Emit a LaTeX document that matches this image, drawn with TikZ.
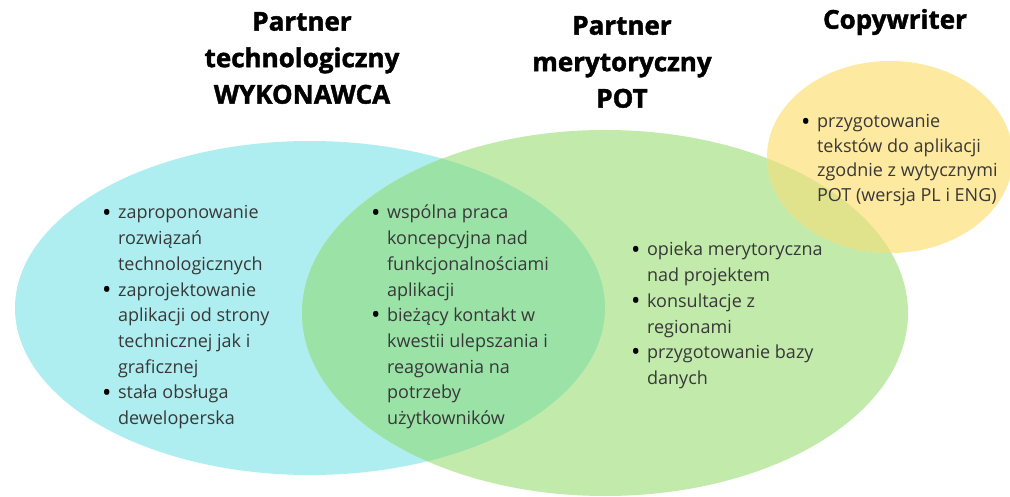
\documentclass[tikz,border=0pt]{standalone}
\usepackage{fontspec}
\setmainfont{Open Sans}
\newfontfamily\titlefont[BoldFeatures={FakeBold=1.6}]{Open Sans}
\definecolor{cyanfill}{HTML}{AFEEF0}
\definecolor{greenfill}{HTML}{C1EAAB}
\definecolor{cgfill}{HTML}{9BE2A7}
\definecolor{yellowfill}{HTML}{FEE9A0}
\definecolor{ygfill}{HTML}{E1E38C}
\definecolor{bodytext}{HTML}{383838}
\tikzset{
  titletext/.style={font=\titlefont\fontsize{26}{36.5}\selectfont\bfseries, text=black, align=center, inner sep=0pt},
  listtext/.style={font=\fontsize{18}{25.7}\selectfont, text=bodytext, anchor=base west, inner sep=0pt},
  ylisttext/.style={font=\fontsize{18}{24.5}\selectfont, text=bodytext, anchor=base west, inner sep=0pt}
}
\newcommand{\bul}{\raisebox{-2.2pt}{\textcolor{black}{\fontsize{25}{0}\selectfont •}}}
\newcommand{\blist}[1]{\begin{tabular}[t]{@{}l@{\hspace{6.5pt}}l@{}}#1\end{tabular}}
\begin{document}
\begin{tikzpicture}[x=1pt,y=-1pt]
\useasboundingbox (0,0) rectangle (1010,497);
\fill[white] (0,0) rectangle (1010,497);
% ellipses
\fill[cyanfill] (310,308) ellipse [x radius=295, y radius=167];
\fill[greenfill] (605,313) ellipse [x radius=303, y radius=183];
\begin{scope}
  \clip (310,308) ellipse [x radius=295, y radius=167];
  \fill[cgfill] (605,313) ellipse [x radius=303, y radius=183];
\end{scope}
\fill[yellowfill] (890,157) ellipse [x radius=123, y radius=96];
\begin{scope}
  \clip (605,313) ellipse [x radius=303, y radius=183];
  \fill[ygfill] (890,157) ellipse [x radius=123, y radius=96];
\end{scope}
% titles
\node[titletext] (t1) at (302,58) {Partner\\technologiczny\\WYKONAWCA};
\node[titletext] (t2) at (622,62) {Partner\\merytoryczny\\POT};
\node[titletext] (t3) at (895,22) {Copywriter};
% lists
\node[listtext] (l1) at (102,219) {\blist{\bul&zaproponowanie\\&rozwiązań\\&technologicznych\\\bul&zaprojektowanie\\&aplikacji od strony\\&technicznej jak i\\&graficznej\\\bul&stała obsługa\\&deweloperska}};
\node[listtext] (l2) at (371,219) {\blist{\bul&wspólna praca\\&koncepcyjna nad\\&funkcjonalnościami\\&aplikacji\\\bul&bieżący kontakt w\\&kwestii ulepszania i\\&reagowania na\\&potrzeby\\&użytkowników}};
\node[listtext] (l3) at (631,256) {\blist{\bul&opieka merytoryczna\\&nad projektem\\\bul&konsultacje z\\&regionami\\\bul&przygotowanie bazy\\&danych}};
\node[ylisttext] (l4) at (801,128) {\blist{\bul&przygotowanie\\&tekstów do aplikacji\\&zgodnie z wytycznymi\\&POT (wersja PL i ENG)}};
\end{tikzpicture}
\end{document}
